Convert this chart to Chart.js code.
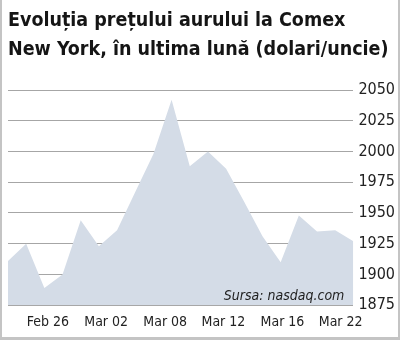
<!DOCTYPE html>
<html>
<head>
<meta charset="utf-8">
<script src="https://cdn.jsdelivr.net/npm/chart.js@4.4.1/dist/chart.umd.min.js"></script>
<style>
    body { margin: 0; background: #ffffff; }
    #wrap { position: relative; width: 400px; height: 340px; }
    #frame {
        position: absolute; left: 0; top: 0; width: 400px; height: 340px;
        box-sizing: border-box; pointer-events: none;
        border-left: 2px solid #c4c4c4; border-right: 2px solid #c4c4c4; border-bottom: 3px solid #c4c4c4;
    }
</style>
</head>
<body>
<div id="wrap">
    <canvas id="goldChart" width="400" height="340"></canvas>
    <div id="frame"></div>
</div>
<script>
// Chart data
const titleLines = ['Evoluția prețului aurului la Comex', 'New York, în ultima lună (dolari/uncie)'];
const sourceNote = 'Sursa: nasdaq.com';

// trading days, one point each
const days = ['Feb 23', 'Feb 24', 'Feb 25', 'Feb 28', 'Mar 01', 'Mar 02', 'Mar 03', 'Mar 04', 'Mar 07', 'Mar 08',
              'Mar 09', 'Mar 10', 'Mar 11', 'Mar 14', 'Mar 15', 'Mar 16', 'Mar 17', 'Mar 18', 'Mar 21', 'Mar 22'];
const prices = [1911, 1925, 1889, 1900, 1944, 1923, 1936, 1967, 1998, 2042,
                1988, 2000, 1986, 1959, 1931, 1910, 1948, 1935, 1936, 1927];

// x axis labels and where they sit (in point index units)
const tickLabels = ['Feb 26', 'Mar 02', 'Mar 08', 'Mar 12', 'Mar 16', 'Mar 22'];
const tickPos = [2.2, 5.4, 8.65, 11.85, 15.1, 18.3];

// y axis
const yMin = 1875, yMax = 2050, yStep = 25;

const narrow = "'Liberation Sans Narrow', 'DejaVu Sans Condensed', 'Roboto', sans-serif";

// small plugin for the source note inside the plot
const sourcePlugin = {
    id: 'sourceNote',
    afterDatasetsDraw(chart) {
        const { ctx, chartArea } = chart;
        ctx.save();
        ctx.font = 'italic 14px ' + narrow;
        ctx.fillStyle = '#1e1e1e';
        ctx.textAlign = 'right';
        ctx.textBaseline = 'alphabetic';
        ctx.fillText(sourceNote, chartArea.right - 9, chartArea.bottom - 5);
        ctx.restore();
    }
};

const ctx = document.getElementById('goldChart');
const goldChart = new Chart(ctx, {
    type: 'line',
    data: {
        labels: days,
        datasets: [{
            label: 'Aur (USD/uncie)',
            data: prices.map((v, i) => ({ x: i, y: v })),
            fill: 'start',
            backgroundColor: '#d4dce7',
            borderWidth: 0,
            borderColor: 'rgba(0,0,0,0)',
            pointRadius: 0,
            tension: 0
        }]
    },
    options: {
        responsive: false,
        animation: false,
        layout: { padding: { left: 8, right: 0, top: 0, bottom: 0 } },
        plugins: {
            legend: { display: false },
            tooltip: { enabled: false },
            title: {
                display: true,
                text: titleLines,
                align: 'start',
                color: '#151515',
                font: { family: narrow, size: 19.5, weight: 'bold', lineHeight: 1.5 },
                padding: { top: 6, bottom: 25.5 }
            }
        },
        scales: {
            x: {
                type: 'linear',
                min: 0,
                max: days.length - 1,
                afterBuildTicks: axis => { axis.ticks = tickPos.map(v => ({ value: v })); },
                grid: { display: false, drawTicks: false },
                border: { display: false },
                ticks: {
                    autoSkip: false,
                    maxRotation: 0,
                    padding: 9,
                    color: '#222222',
                    font: { family: narrow, size: 14 },
                    callback: (v, i) => tickLabels[i]
                }
            },
            y: {
                position: 'right',
                min: yMin,
                max: yMax,
                grid: { color: '#a6a6a6', lineWidth: 1, drawTicks: false },
                border: { display: false },
                ticks: {
                    stepSize: yStep,
                    padding: 5,
                    color: '#222222',
                    font: { family: narrow, size: 16 },
                    callback: v => String(v)
                }
            }
        }
    },
    plugins: [sourcePlugin]
});
</script>
</body>
</html>
